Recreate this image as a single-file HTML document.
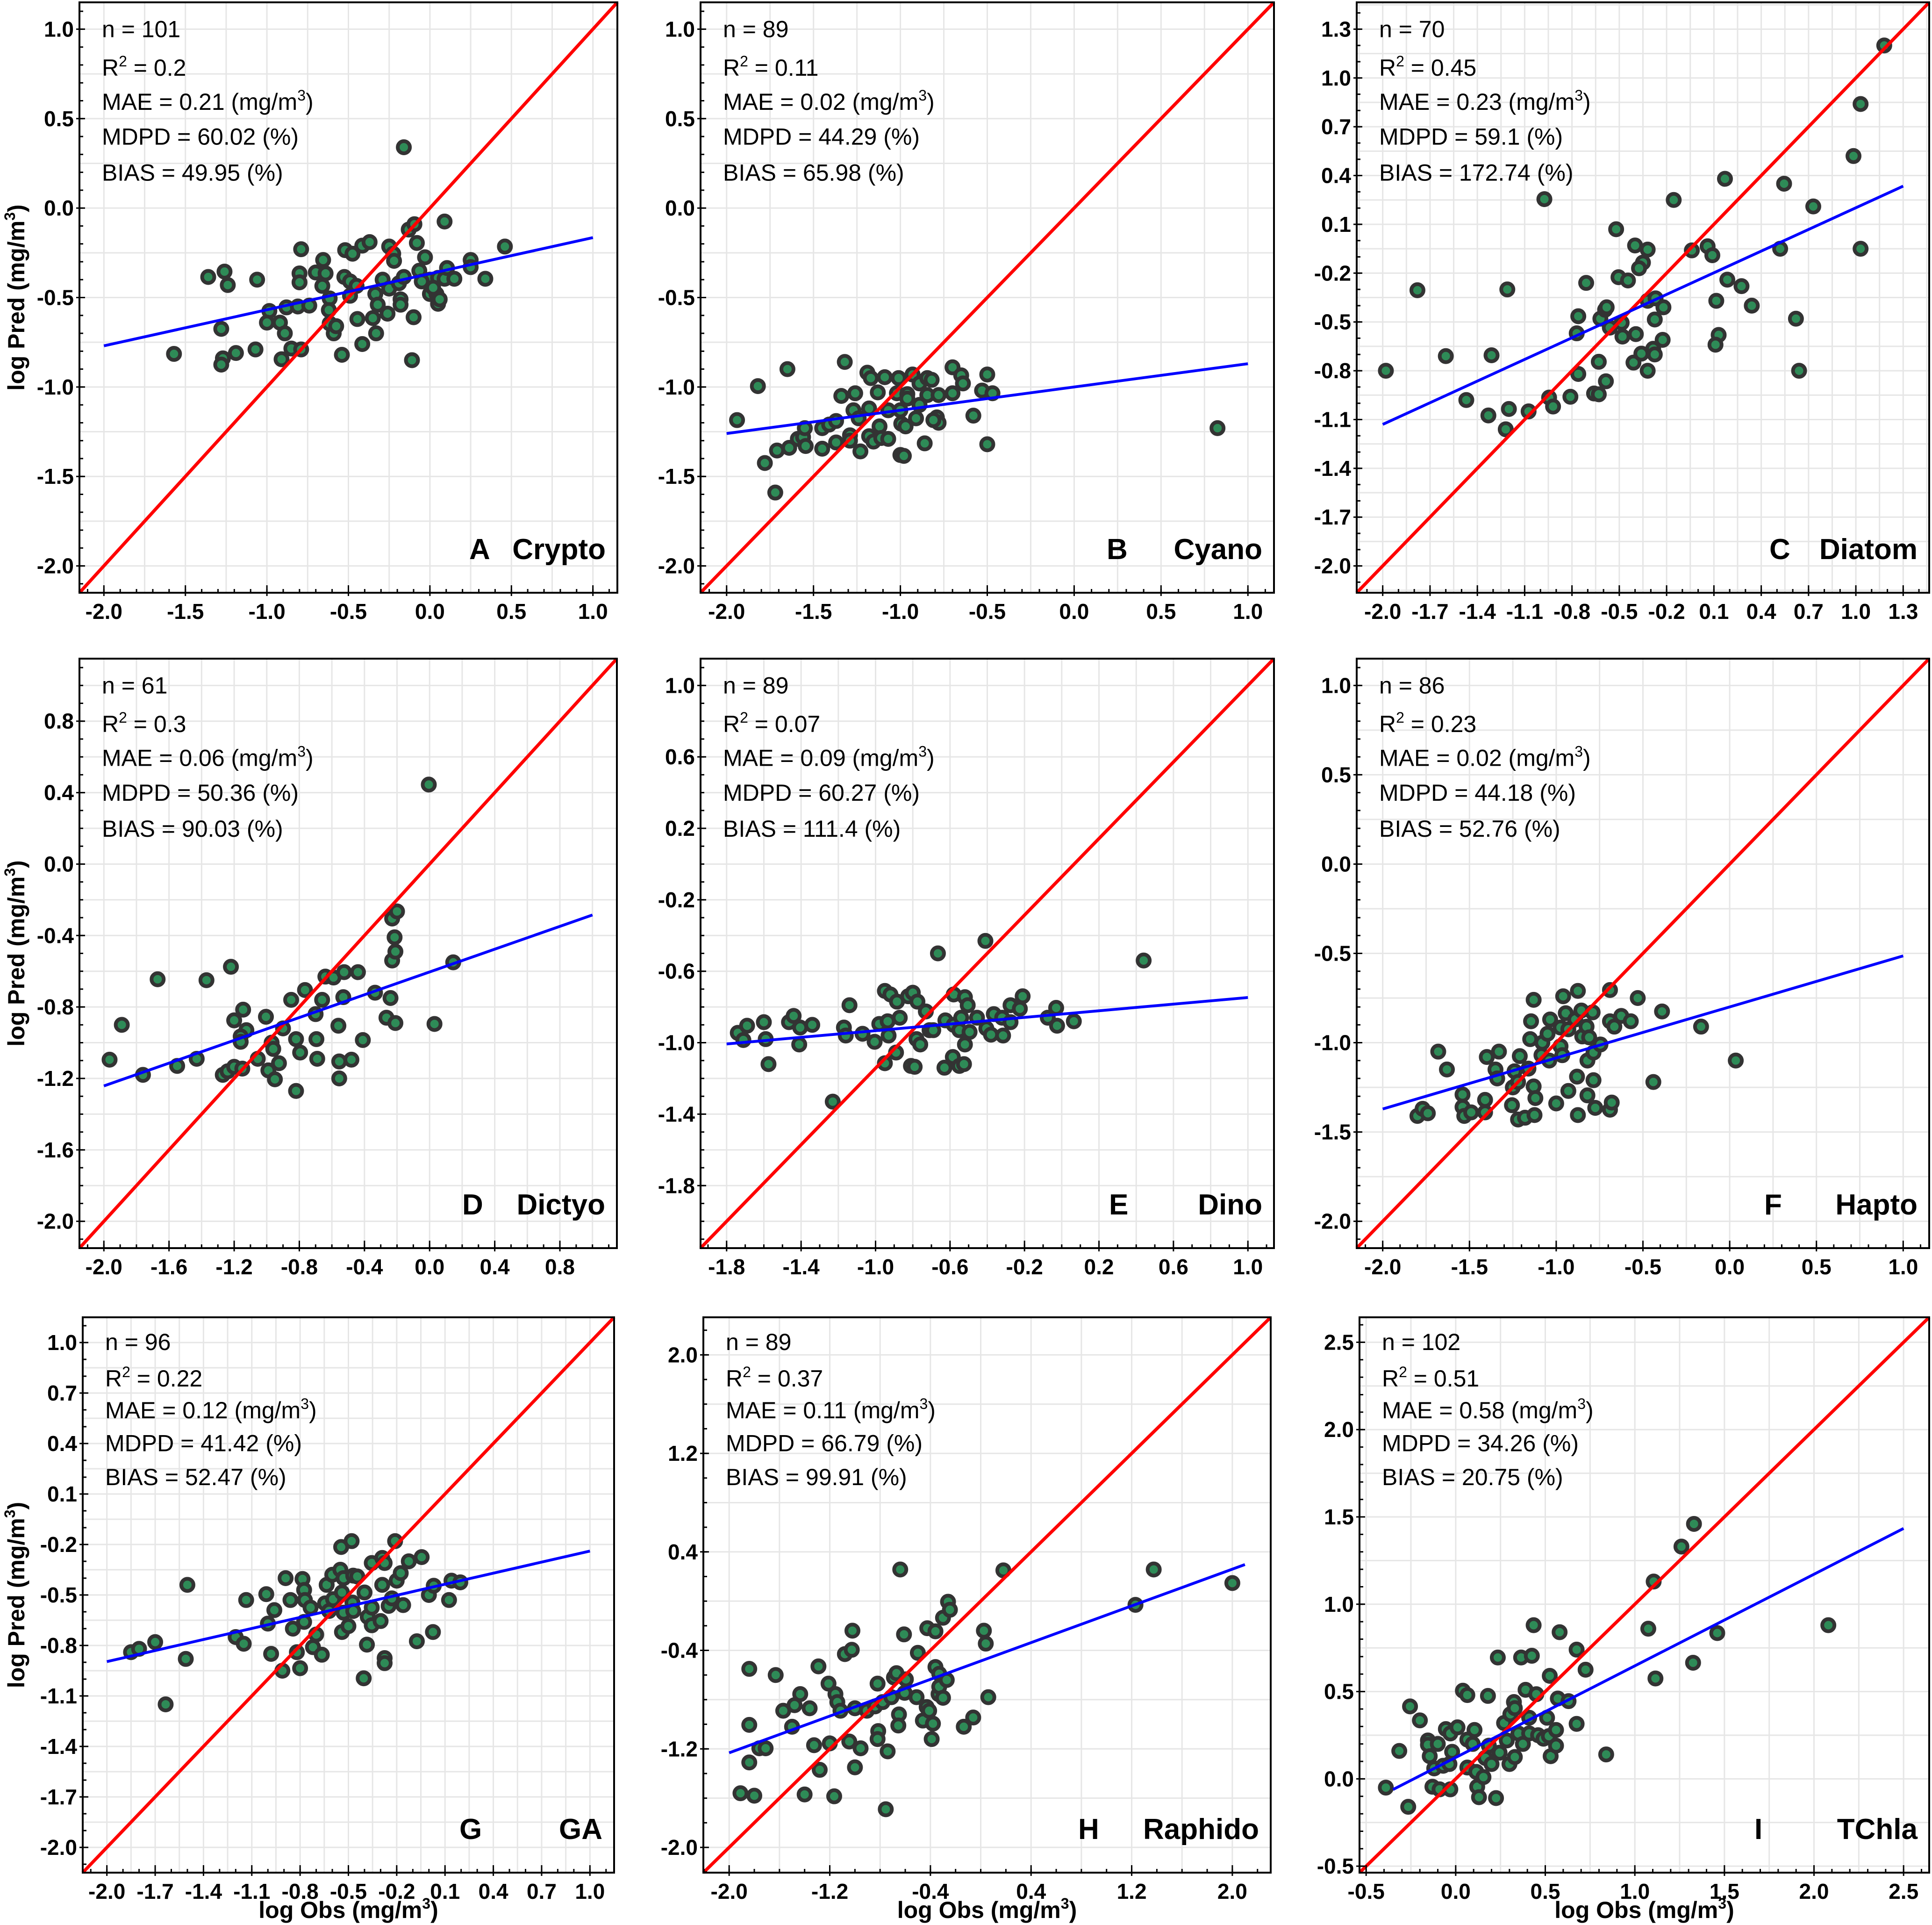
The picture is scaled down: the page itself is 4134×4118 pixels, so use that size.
<!DOCTYPE html>
<html><head><meta charset="utf-8"><title>Predicted vs observed pigment scatter plots</title>
<style>
html,body{margin:0;padding:0;background:#fff;}
svg{display:block;font-family:"Liberation Sans",Arial,sans-serif;}
</style></head>
<body>
<svg id="fig" xmlns="http://www.w3.org/2000/svg" width="4134" height="4118" viewBox="0 0 4134 4118">
<rect x="0" y="0" width="4134" height="4118" fill="#ffffff"/>
</svg>
<script>
// ---- tick label arrays ----
const ticksHalf = [-2.0,-1.5,-1.0,-0.5,0.0,0.5,1.0];
const ticksC = [-2.0,-1.7,-1.4,-1.1,-0.8,-0.5,-0.2,0.1,0.4,0.7,1.0,1.3];
const ticksG = [-2.0,-1.7,-1.4,-1.1,-0.8,-0.5,-0.2,0.1,0.4,0.7,1.0];
const ticksD = [-2.0,-1.6,-1.2,-0.8,-0.4,0.0,0.4,0.8];
const ticksE = [-1.8,-1.4,-1.0,-0.6,-0.2,0.2,0.6,1.0];
const ticksH = [-2.0,-1.2,-0.4,0.4,1.2,2.0];
const ticksI = [-0.5,0.0,0.5,1.0,1.5,2.0,2.5];

// ---- regression line endpoints [x,y] ----
const fitA = [[-2.0,-0.77],[1.0,-0.165]];
const fitB = [[-2.0,-1.26],[1.0,-0.87]];
const fitC = [[-2.0,-1.13],[1.3,0.335]];
const fitD = [[-2.0,-1.242],[1.0,-0.285]];
const fitE = [[-1.8,-1.007],[1.0,-0.747]];
const fitF = [[-2.0,-1.371],[1.0,-0.514]];
const fitG = [[-2.0,-0.896],[1.0,-0.239]];
const fitH = [[-2.0,-1.232],[2.1,0.297]];
const fitI = [[-0.35,-0.061],[2.5,1.434]];

// ---- scatter data [logObs, logPred] ----
const crypto = [[-0.16,0.34],[-1.57,-0.815],[-1.36,-0.385],[-1.26,-0.355],[-1.24,-0.43],[-1.28,-0.675],[-1.27,-0.84],[-1.28,-0.875],[-1.19,-0.81],[-1.07,-0.79],[-1.06,-0.40],[-0.985,-0.575],[-1.0,-0.64],[-0.92,-0.64],[-0.89,-0.70],[-0.91,-0.845],[-0.85,-0.785],[-0.79,-0.79],[-0.88,-0.555],[-0.81,-0.55],[-0.74,-0.545],[-0.79,-0.23],[-0.80,-0.365],[-0.80,-0.415],[-0.70,-0.36],[-0.66,-0.435],[-0.655,-0.29],[-0.64,-0.365],[-0.615,-0.505],[-0.62,-0.57],[-0.615,-0.645],[-0.59,-0.70],[-0.575,-0.66],[-0.52,-0.235],[-0.475,-0.255],[-0.525,-0.385],[-0.49,-0.41],[-0.45,-0.435],[-0.49,-0.49],[-0.54,-0.82],[-0.445,-0.62],[-0.415,-0.21],[-0.37,-0.19],[-0.415,-0.76],[-0.35,-0.615],[-0.335,-0.48],[-0.32,-0.54],[-0.33,-0.70],[-0.29,-0.40],[-0.26,-0.59],[-0.25,-0.45],[-0.25,-0.215],[-0.225,-0.255],[-0.22,-0.295],[-0.18,-0.51],[-0.18,-0.54],[-0.19,-0.42],[-0.16,-0.385],[-0.13,-0.12],[-0.095,-0.09],[-0.08,-0.195],[-0.03,-0.275],[-0.065,-0.35],[-0.10,-0.61],[-0.11,-0.85],[0.0,-0.40],[0.0,-0.48],[0.04,-0.48],[0.05,-0.535],[0.06,-0.51],[0.05,-0.39],[0.09,-0.395],[0.09,-0.075],[0.105,-0.335],[0.15,-0.395],[0.25,-0.29],[0.25,-0.33],[0.34,-0.395],[0.46,-0.215],[-0.05,-0.41],[0.02,-0.445]];
const cyano = [[-1.94,-1.185],[-1.82,-0.995],[-1.65,-0.90],[-1.78,-1.425],[-1.72,-1.59],[-1.71,-1.355],[-1.64,-1.34],[-1.59,-1.29],[-1.56,-1.28],[-1.55,-1.23],[-1.545,-1.33],[-1.45,-1.23],[-1.45,-1.345],[-1.41,-1.21],[-1.37,-1.19],[-1.37,-1.31],[-1.34,-1.05],[-1.32,-0.86],[-1.29,-1.27],[-1.29,-1.30],[-1.27,-1.13],[-1.26,-1.035],[-1.24,-1.175],[-1.23,-1.36],[-1.19,-0.92],[-1.17,-0.95],[-1.18,-1.12],[-1.18,-1.275],[-1.155,-1.305],[-1.13,-1.03],[-1.12,-1.22],[-1.11,-1.285],[-1.09,-0.945],[-1.07,-1.13],[-1.07,-1.29],[-1.01,-0.95],[-1.02,-1.035],[-1.0,-1.13],[-0.995,-1.205],[-1.0,-1.38],[-0.98,-1.385],[-0.97,-1.22],[-0.96,-1.04],[-0.96,-1.065],[-0.93,-0.93],[-0.91,-1.175],[-0.89,-0.98],[-0.89,-1.10],[-0.86,-1.315],[-0.845,-0.95],[-0.82,-0.96],[-0.845,-1.045],[-0.79,-1.17],[-0.78,-1.20],[-0.78,-1.045],[-0.70,-1.035],[-0.70,-0.89],[-0.65,-0.935],[-0.64,-0.98],[-0.58,-1.16],[-0.53,-1.02],[-0.50,-0.93],[-0.47,-1.035],[-0.50,-1.32],[0.825,-1.23],[-0.81,-1.185]];
const diatom = [[1.18,1.20],[1.03,0.84],[0.985,0.52],[1.03,-0.05],[0.545,0.35],[0.73,0.21],[0.52,-0.05],[0.62,-0.48],[0.64,-0.80],[0.17,0.38],[-0.155,0.25],[-0.04,-0.06],[0.06,-0.035],[0.09,-0.09],[0.185,-0.24],[0.275,-0.28],[0.34,-0.40],[0.115,-0.37],[0.13,-0.58],[0.11,-0.64],[-0.975,0.255],[-1.78,-0.305],[-1.21,-0.30],[-1.98,-0.80],[-1.60,-0.71],[-1.31,-0.705],[-1.47,-0.98],[-1.33,-1.075],[-1.20,-1.035],[-1.22,-1.16],[-1.075,-1.05],[-0.945,-0.965],[-0.92,-1.02],[-0.81,-0.96],[-0.76,-0.82],[-0.66,-0.94],[-0.63,-0.945],[-0.585,-0.865],[-0.63,-0.745],[-0.77,-0.57],[-0.76,-0.465],[-0.71,-0.26],[-0.62,-0.48],[-0.59,-0.425],[-0.58,-0.41],[-0.56,-0.535],[-0.52,0.07],[-0.505,-0.225],[-0.445,-0.245],[-0.485,-0.505],[-0.48,-0.59],[-0.395,-0.575],[-0.40,-0.03],[-0.32,-0.055],[-0.35,-0.135],[-0.375,-0.17],[-0.32,-0.37],[-0.27,-0.355],[-0.22,-0.41],[-0.275,-0.485],[-0.41,-0.75],[-0.36,-0.695],[-0.32,-0.80],[-0.285,-0.665],[-0.275,-0.70],[-0.225,-0.61]];
const dictyo = [[-1.965,-1.095],[-1.89,-0.90],[-1.76,-1.18],[-1.67,-0.645],[-1.55,-1.13],[-1.43,-1.09],[-1.37,-0.65],[-1.22,-0.575],[-1.27,-1.18],[-1.24,-1.16],[-1.20,-1.135],[-1.15,-1.145],[-1.20,-0.875],[-1.145,-0.815],[-1.125,-0.93],[-1.16,-0.965],[-1.16,-0.995],[-1.055,-1.09],[-1.005,-0.855],[-0.99,-1.155],[-0.97,-1.0],[-0.96,-1.035],[-0.95,-1.205],[-0.925,-1.115],[-0.90,-0.92],[-0.85,-0.76],[-0.82,-0.98],[-0.795,-1.055],[-0.82,-1.27],[-0.765,-0.705],[-0.70,-0.84],[-0.695,-0.98],[-0.69,-1.09],[-0.66,-0.76],[-0.64,-0.63],[-0.59,-0.635],[-0.525,-0.605],[-0.53,-0.745],[-0.56,-0.905],[-0.555,-1.105],[-0.555,-1.20],[-0.48,-1.095],[-0.44,-0.605],[-0.41,-0.985],[-0.335,-0.72],[-0.265,-0.86],[-0.24,-0.75],[-0.21,-0.89],[-0.23,-0.54],[-0.21,-0.49],[-0.215,-0.41],[-0.23,-0.305],[-0.20,-0.265],[-0.005,0.445],[0.03,-0.895],[0.145,-0.55]];
const dino = [[-1.74,-0.945],[-1.71,-0.985],[-1.69,-0.905],[-1.60,-0.885],[-1.59,-0.98],[-1.575,-1.12],[-1.465,-0.885],[-1.44,-0.85],[-1.405,-0.915],[-1.41,-1.01],[-1.34,-0.90],[-1.23,-1.33],[-1.17,-0.915],[-1.16,-0.96],[-1.14,-0.79],[-1.07,-0.95],[-1.005,-0.995],[-0.98,-0.895],[-0.95,-0.71],[-0.92,-0.73],[-0.935,-0.88],[-0.93,-0.96],[-0.95,-1.115],[-0.89,-1.055],[-0.885,-0.77],[-0.87,-0.86],[-0.825,-0.74],[-0.80,-0.72],[-0.81,-1.13],[-0.79,-1.135],[-0.775,-0.77],[-0.78,-0.98],[-0.76,-1.01],[-0.73,-0.825],[-0.71,-0.93],[-0.69,-0.93],[-0.665,-0.50],[-0.625,-0.875],[-0.63,-1.14],[-0.58,-0.73],[-0.58,-0.90],[-0.585,-1.08],[-0.55,-1.13],[-0.55,-0.93],[-0.54,-0.86],[-0.525,-1.12],[-0.52,-0.745],[-0.52,-1.01],[-0.505,-0.79],[-0.495,-0.94],[-0.455,-0.86],[-0.41,-0.43],[-0.405,-0.92],[-0.38,-0.955],[-0.365,-0.84],[-0.32,-0.86],[-0.315,-0.96],[-0.275,-0.885],[-0.275,-0.79],[-0.225,-0.81],[-0.21,-0.74],[-0.075,-0.86],[-0.03,-0.805],[-0.025,-0.905],[0.065,-0.88],[0.44,-0.54]];
const hapto = [[-1.80,-1.41],[-1.77,-1.37],[-1.74,-1.395],[-1.68,-1.05],[-1.63,-1.15],[-1.54,-1.29],[-1.54,-1.36],[-1.53,-1.41],[-1.49,-1.39],[-1.41,-1.32],[-1.41,-1.39],[-1.40,-1.08],[-1.35,-1.15],[-1.34,-1.20],[-1.33,-1.05],[-1.255,-1.35],[-1.25,-1.25],[-1.24,-1.16],[-1.22,-1.22],[-1.22,-1.43],[-1.21,-1.075],[-1.18,-1.42],[-1.16,-1.145],[-1.15,-0.98],[-1.145,-0.88],[-1.13,-0.76],[-1.13,-1.245],[-1.12,-1.31],[-1.125,-1.405],[-1.085,-1.07],[-1.08,-1.00],[-1.05,-0.95],[-1.04,-1.10],[-1.035,-0.87],[-1.0,-1.34],[-0.975,-0.915],[-0.975,-1.02],[-0.965,-1.07],[-0.96,-0.74],[-0.945,-0.835],[-0.93,-1.27],[-0.93,-0.925],[-0.89,-0.87],[-0.88,-1.19],[-0.875,-0.71],[-0.875,-1.405],[-0.855,-0.82],[-0.85,-0.965],[-0.825,-0.91],[-0.82,-1.10],[-0.82,-1.295],[-0.81,-0.97],[-0.79,-0.83],[-0.785,-1.055],[-0.785,-1.21],[-0.775,-1.365],[-0.745,-1.01],[-0.69,-0.705],[-0.69,-0.88],[-0.69,-1.375],[-0.68,-1.335],[-0.665,-0.91],[-0.625,-0.85],[-0.57,-0.88],[-0.53,-0.75],[-0.44,-1.22],[-0.39,-0.825],[-0.165,-0.91],[0.035,-1.10]];
const ga = [[-1.85,-0.84],[-1.80,-0.82],[-1.70,-0.78],[-1.635,-1.15],[-1.50,-0.44],[-1.51,-0.88],[-1.20,-0.75],[-1.15,-0.79],[-1.135,-0.53],[-1.01,-0.495],[-1.0,-0.67],[-0.96,-0.59],[-0.98,-0.85],[-0.91,-0.95],[-0.89,-0.40],[-0.86,-0.53],[-0.845,-0.70],[-0.82,-0.84],[-0.80,-0.935],[-0.785,-0.405],[-0.775,-0.47],[-0.77,-0.53],[-0.775,-0.66],[-0.735,-0.575],[-0.72,-0.81],[-0.70,-0.735],[-0.665,-0.855],[-0.645,-0.55],[-0.635,-0.44],[-0.62,-0.595],[-0.60,-0.38],[-0.595,-0.525],[-0.55,-0.35],[-0.545,-0.215],[-0.54,-0.485],[-0.53,-0.40],[-0.53,-0.605],[-0.54,-0.72],[-0.50,-0.685],[-0.48,-0.18],[-0.475,-0.545],[-0.47,-0.385],[-0.445,-0.39],[-0.47,-0.595],[-0.40,-0.485],[-0.385,-0.795],[-0.405,-0.995],[-0.38,-0.63],[-0.355,-0.31],[-0.355,-0.575],[-0.355,-0.68],[-0.30,-0.655],[-0.29,-0.28],[-0.275,-0.31],[-0.29,-0.44],[-0.275,-0.875],[-0.275,-0.905],[-0.25,-0.565],[-0.23,-0.52],[-0.21,-0.18],[-0.20,-0.415],[-0.175,-0.37],[-0.16,-0.56],[-0.125,-0.30],[-0.075,-0.775],[-0.045,-0.275],[0.0,-0.50],[0.03,-0.445],[0.025,-0.72],[0.125,-0.53],[0.14,-0.415],[0.195,-0.425]];
const raphido = [[-1.91,-1.56],[-1.80,-1.58],[-1.84,-0.55],[-1.84,-1.005],[-1.84,-1.31],[-1.76,-1.195],[-1.71,-1.195],[-1.63,-0.60],[-1.57,-0.89],[-1.50,-1.02],[-1.48,-0.845],[-1.435,-0.755],[-1.40,-1.57],[-1.36,-0.87],[-1.325,-1.17],[-1.29,-0.53],[-1.28,-1.37],[-1.20,-1.155],[-1.21,-0.67],[-1.165,-1.585],[-1.155,-0.755],[-1.14,-0.82],[-1.115,-0.89],[-1.08,-0.43],[-1.045,-1.14],[-1.025,-0.395],[-1.02,-0.24],[-1.0,-1.35],[-1.0,-0.87],[-0.955,-1.195],[-0.905,-0.89],[-0.84,-0.855],[-0.82,-0.67],[-0.815,-1.055],[-0.82,-1.12],[-0.78,-0.82],[-0.755,-1.69],[-0.74,-1.22],[-0.71,-0.78],[-0.69,-0.62],[-0.67,-0.585],[-0.65,-0.92],[-0.655,-1.01],[-0.64,0.257],[-0.61,-0.27],[-0.605,-0.745],[-0.595,-0.635],[-0.51,-0.78],[-0.50,-0.42],[-0.46,-0.97],[-0.43,-0.86],[-0.425,-0.22],[-0.41,-0.89],[-0.38,-0.995],[-0.39,-1.12],[-0.36,-0.245],[-0.36,-0.535],[-0.335,-0.755],[-0.33,-0.59],[-0.33,-0.695],[-0.30,-0.785],[-0.30,-0.135],[-0.27,-0.64],[-0.26,-0.005],[-0.245,-0.07],[-0.135,-1.02],[-0.06,-0.945],[0.025,-0.24],[0.04,-0.345],[0.06,-0.78],[0.18,0.25],[1.23,-0.03],[1.375,0.257],[2.0,0.147]];
const tchla = [[-0.39,-0.05],[-0.315,0.16],[-0.265,-0.16],[-0.255,0.415],[-0.20,0.335],[-0.155,0.22],[-0.155,0.195],[-0.145,0.13],[-0.13,-0.045],[-0.12,0.06],[-0.10,0.20],[-0.09,-0.06],[-0.07,0.075],[-0.055,0.285],[-0.03,0.26],[-0.035,0.085],[-0.03,-0.06],[-0.02,0.155],[0.01,0.295],[0.04,0.505],[0.065,0.48],[0.065,0.225],[0.065,0.065],[0.095,0.20],[0.105,0.28],[0.115,0.04],[0.12,-0.045],[0.13,-0.105],[0.155,0.01],[0.165,0.12],[0.18,0.475],[0.185,0.19],[0.20,0.085],[0.225,-0.11],[0.235,0.695],[0.245,0.15],[0.27,0.32],[0.285,0.22],[0.30,0.085],[0.305,0.37],[0.325,0.44],[0.33,0.125],[0.33,0.405],[0.35,0.26],[0.365,0.695],[0.375,0.20],[0.39,0.51],[0.41,0.35],[0.41,0.26],[0.425,0.705],[0.435,0.88],[0.45,0.485],[0.46,0.25],[0.49,0.23],[0.51,0.35],[0.52,0.245],[0.525,0.59],[0.53,0.13],[0.56,0.28],[0.56,0.19],[0.57,0.46],[0.58,0.84],[0.63,0.445],[0.675,0.74],[0.675,0.315],[0.725,0.625],[0.84,0.14],[1.075,0.86],[1.105,1.13],[1.115,0.575],[1.26,1.33],[1.325,0.665],[1.33,1.46],[1.46,0.835],[2.08,0.88]];

// ---- panel layout (positions/styles, not data) ----
const panels = [
 {key:'crypto',l:170,r:1321,t:5,b:1268,xr:[-2.15,1.15],yr:[-2.15,1.15],xt:ticksHalf,yt:ticksHalf,gs:0.25,ms:0.1,pts:crypto,fit:fitA,letter:'A',lo:317,title:'Crypto',st:['101','0.2','0.21','60.02','49.95'],ylab:true,xlab:false},
 {key:'cyano',l:1499,r:2726,t:5,b:1268,xr:[-2.15,1.15],yr:[-2.15,1.15],xt:ticksHalf,yt:ticksHalf,gs:0.25,ms:0.1,pts:cyano,fit:fitB,letter:'B',lo:358,title:'Cyano',st:['89','0.11','0.02','44.29','65.98'],ylab:false,xlab:false},
 {key:'diatom',l:2903,r:4128,t:5,b:1268,xr:[-2.165,1.465],yr:[-2.165,1.465],xt:ticksC,yt:ticksC,gs:0.15,ms:0.1,pts:diatom,fit:fitC,letter:'C',lo:342,title:'Diatom',st:['70','0.45','0.23','59.1','172.74'],ylab:false,xlab:false},
 {key:'dictyo',l:170,r:1320,t:1409,b:2670,xr:[-2.15,1.15],yr:[-2.15,1.15],xt:ticksD,yt:ticksD,gs:0.2,ms:0.1,pts:dictyo,fit:fitD,letter:'D',lo:331,title:'Dictyo',st:['61','0.3','0.06','50.36','90.03'],ylab:true,xlab:false},
 {key:'dino',l:1499,r:2726,t:1409,b:2670,xr:[-1.94,1.14],yr:[-2.15,1.15],xt:ticksE,yt:ticksE,gs:0.2,ms:0.1,pts:dino,fit:fitE,letter:'E',lo:353,title:'Dino',st:['89','0.07','0.09','60.27','111.4'],ylab:false,xlab:false},
 {key:'hapto',l:2903,r:4128,t:1409,b:2670,xr:[-2.15,1.15],yr:[-2.15,1.15],xt:ticksHalf,yt:ticksHalf,gs:0.25,ms:0.1,pts:hapto,fit:fitF,letter:'F',lo:353,title:'Hapto',st:['86','0.23','0.02','44.18','52.76'],ylab:false,xlab:false},
 {key:'ga',l:177,r:1314,t:2818,b:4006,xr:[-2.15,1.15],yr:[-2.15,1.15],xt:ticksG,yt:ticksG,gs:0.15,ms:0.1,pts:ga,fit:fitG,letter:'G',lo:331,title:'GA',st:['96','0.22','0.12','41.42','52.47'],ylab:true,xlab:true},
 {key:'raphido',l:1505,r:2719,t:2818,b:4006,xr:[-2.205,2.305],yr:[-2.205,2.305],xt:ticksH,yt:ticksH,gs:0.4,ms:0.2,pts:raphido,fit:fitH,letter:'H',lo:412,title:'Raphido',st:['89','0.37','0.11','66.79','99.91'],ylab:false,xlab:true},
 {key:'tchla',l:2909,r:4128,t:2818,b:4006,xr:[-0.537,2.643],yr:[-0.537,2.643],xt:ticksI,yt:ticksI,gs:0.25,ms:0.1,pts:tchla,fit:fitI,letter:'I',lo:374,title:'TChla',st:['102','0.51','0.58','34.26','20.75'],ylab:false,xlab:true}
];

const NS = 'http://www.w3.org/2000/svg';
const svg = document.getElementById('fig');
function mk(tag, parent){ const e=document.createElementNS(NS,tag); parent.appendChild(e); return e; }
function fmt(v){ const s=v.toFixed(1); return s==='-0.0'?'0.0':s; }
function range(t0,step,lo,hi){ const out=[]; const k0=Math.ceil((lo-t0)/step-1e-9), k1=Math.floor((hi-t0)/step+1e-9); for(let k=k0;k<=k1;k++) out.push(t0+k*step); return out; }

panels.forEach(p=>{
  const g = mk('g', svg);
  
  
  const sx = v => p.l + (v-p.xr[0])/(p.xr[1]-p.xr[0])*(p.r-p.l);
  const sy = v => p.b - (v-p.yr[0])/(p.yr[1]-p.yr[0])*(p.b-p.t);

  const grid = mk('g', g);
  
  
  range(p.xt[0],p.gs,p.xr[0],p.xr[1]).forEach(v=>{
    const ln = mk('line', grid);
    
    
    ln.setAttribute('x1',sx(v)); ln.setAttribute('x2',sx(v)); ln.setAttribute('y1',p.t); ln.setAttribute('y2',p.b);
    ln.setAttribute('stroke','#e6e6e6'); ln.setAttribute('stroke-width','3');
  });
  range(p.yt[0],p.gs,p.yr[0],p.yr[1]).forEach(v=>{
    const ln = mk('line', grid);
    
    
    ln.setAttribute('y1',sy(v)); ln.setAttribute('y2',sy(v)); ln.setAttribute('x1',p.l); ln.setAttribute('x2',p.r);
    ln.setAttribute('stroke','#e6e6e6'); ln.setAttribute('stroke-width','3');
  });

  const pg = mk('g', g);
  
  
  p.pts.forEach(d=>{
    const c = mk('circle', pg);
    
    
    c.setAttribute('cx', sx(d[0])); c.setAttribute('cy', sy(d[1])); c.setAttribute('r', 13);
    c.setAttribute('fill','#2e8b57'); c.setAttribute('stroke','#333333'); c.setAttribute('stroke-width','8');
  });

  const red = mk('line', g);
  
  
  red.setAttribute('x1',p.l); red.setAttribute('y1',p.b); red.setAttribute('x2',p.r); red.setAttribute('y2',p.t);
  red.setAttribute('stroke','#ff0000'); red.setAttribute('stroke-width','7');

  const blue = mk('line', g);
  
  
  blue.setAttribute('x1',sx(p.fit[0][0])); blue.setAttribute('y1',sy(p.fit[0][1]));
  blue.setAttribute('x2',sx(p.fit[1][0])); blue.setAttribute('y2',sy(p.fit[1][1]));
  blue.setAttribute('stroke','#0000ff'); blue.setAttribute('stroke-width','6');

  const fr = mk('rect', g);
  
  
  fr.setAttribute('x',p.l); fr.setAttribute('y',p.t); fr.setAttribute('width',p.r-p.l); fr.setAttribute('height',p.b-p.t);
  fr.setAttribute('fill','none'); fr.setAttribute('stroke','#000'); fr.setAttribute('stroke-width','4');

  const tk = mk('g', g);
  
  
  range(p.xt[0],p.ms,p.xr[0],p.xr[1]).forEach(v=>{
    const ln = mk('line', tk);
    
    
    ln.setAttribute('x1',sx(v)); ln.setAttribute('x2',sx(v)); ln.setAttribute('y1',p.b); ln.setAttribute('y2',p.b-8);
    ln.setAttribute('stroke','#000'); ln.setAttribute('stroke-width','3');
  });
  range(p.yt[0],p.ms,p.yr[0],p.yr[1]).forEach(v=>{
    const ln = mk('line', tk);
    
    
    ln.setAttribute('y1',sy(v)); ln.setAttribute('y2',sy(v)); ln.setAttribute('x1',p.l); ln.setAttribute('x2',p.l+8);
    ln.setAttribute('stroke','#000'); ln.setAttribute('stroke-width','3');
  });
  p.xt.forEach(v=>{
    const ln = mk('line', tk);
    
    
    ln.setAttribute('x1',sx(v)); ln.setAttribute('x2',sx(v)); ln.setAttribute('y1',p.b+7); ln.setAttribute('y2',p.b-16);
    ln.setAttribute('stroke','#000'); ln.setAttribute('stroke-width','3');
    const tx = mk('text', tk);
    
    
    tx.setAttribute('x',sx(v)); tx.setAttribute('y',p.b+56);
    tx.setAttribute('text-anchor','middle'); tx.setAttribute('font-size','46'); tx.setAttribute('font-weight','bold');
    tx.textContent = fmt(v);
  });
  p.yt.forEach(v=>{
    const ln = mk('line', tk);
    
    
    ln.setAttribute('y1',sy(v)); ln.setAttribute('y2',sy(v)); ln.setAttribute('x1',p.l-7); ln.setAttribute('x2',p.l+12);
    ln.setAttribute('stroke','#000'); ln.setAttribute('stroke-width','3');
    const tx = mk('text', tk);
    
    
    tx.setAttribute('x',p.l-12); tx.setAttribute('y',sy(v)+16);
    tx.setAttribute('text-anchor','end'); tx.setAttribute('font-size','46'); tx.setAttribute('font-weight','bold');
    tx.textContent = fmt(v);
  });

  const H = p.b-p.t, sxl = p.l+48;
  const fr2 = [0.059,0.1245,0.182,0.241,0.302];
  const lines = ['n = '+p.st[0], null, null, 'MDPD = '+p.st[3]+' (%)', 'BIAS = '+p.st[4]+' (%)'];
  const stg = mk('g', g);
  
  
  fr2.forEach((f,i)=>{
    const t = mk('text', stg);
    
    
    t.setAttribute('x', sxl); t.setAttribute('y', p.t+f*H); t.setAttribute('font-size','50');
    if(i===1){
      t.innerHTML = 'R<tspan font-size="32" dy="-20">2</tspan><tspan dy="20"> = '+p.st[1]+'</tspan>';
    } else if(i===2){
      t.innerHTML = 'MAE = '+p.st[2]+' (mg/m<tspan font-size="32" dy="-20">3</tspan><tspan dy="20">)</tspan>';
    } else {
      t.textContent = lines[i];
    }
  });

  const lt = mk('text', g);
  
  
  lt.setAttribute('x', p.r-p.lo); lt.setAttribute('y', p.b-72);
  lt.setAttribute('font-size','62'); lt.setAttribute('font-weight','bold');
  lt.textContent = p.letter;
  const nt = mk('text', g);
  
  
  nt.setAttribute('x', p.r-25); nt.setAttribute('y', p.b-72); nt.setAttribute('text-anchor','end');
  nt.setAttribute('font-size','62'); nt.setAttribute('font-weight','bold');
  nt.textContent = p.title;

  if(p.ylab){
    const cy = (p.t+p.b)/2;
    const yl = mk('text', g);
    
    
    yl.setAttribute('x', 52); yl.setAttribute('y', cy);
    yl.setAttribute('transform','rotate(-90 52 '+cy+')');
    yl.setAttribute('text-anchor','middle'); yl.setAttribute('font-size','50'); yl.setAttribute('font-weight','bold');
    yl.innerHTML = 'log Pred (mg/m<tspan font-size="32" dy="-20">3</tspan><tspan dy="20">)</tspan>';
  }
  if(p.xlab){
    const xl = mk('text', g);
    
    
    xl.setAttribute('x', (p.l+p.r)/2); xl.setAttribute('y', 4103);
    xl.setAttribute('text-anchor','middle'); xl.setAttribute('font-size','50'); xl.setAttribute('font-weight','bold');
    xl.innerHTML = 'log Obs (mg/m<tspan font-size="32" dy="-20">3</tspan><tspan dy="20">)</tspan>';
  }
});
</script>
</body></html>
